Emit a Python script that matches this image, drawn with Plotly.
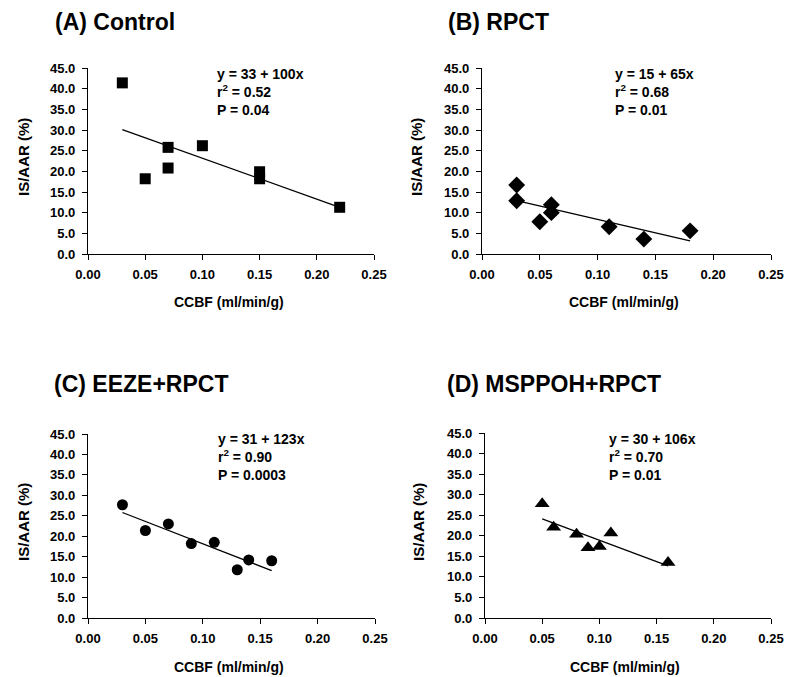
import plotly.graph_objects as go

# ---- data ----
panel_titles = ["(A) Control", "(B) RPCT", "(C) EEZE+RPCT", "(D) MSPPOH+RPCT"]
fit_texts = [
    "y = 33 + 100x<br>r<sup>2</sup> = 0.52<br>P = 0.04",
    "y = 15 + 65x<br>r<sup>2</sup> = 0.68<br>P = 0.01",
    "y = 31 + 123x<br>r<sup>2</sup> = 0.90<br>P = 0.0003",
    "y = 30 + 106x<br>r<sup>2</sup> = 0.70<br>P = 0.01",
]

control_x = [0.03, 0.05, 0.07, 0.07, 0.10, 0.15, 0.15, 0.22]
control_y = [41.4, 18.2, 25.8, 20.8, 26.2, 19.9, 18.2, 11.3]
control_fit_x = [0.03, 0.22]
control_fit_y = [30.1, 11.3]

rpct_x = [0.03, 0.03, 0.05, 0.06, 0.06, 0.11, 0.14, 0.18]
rpct_y = [16.7, 12.9, 7.8, 11.9, 10.0, 6.6, 3.6, 5.6]
rpct_fit_x = [0.03, 0.18]
rpct_fit_y = [12.9, 3.2]

eeze_x = [0.03, 0.05, 0.07, 0.09, 0.11, 0.13, 0.14, 0.16]
eeze_y = [27.7, 21.4, 23.0, 18.2, 18.5, 11.8, 14.2, 14.0]
eeze_fit_x = [0.03, 0.16]
eeze_fit_y = [25.8, 11.6]

msppoh_x = [0.05, 0.06, 0.08, 0.09, 0.10, 0.11, 0.16]
msppoh_y = [27.8, 22.1, 20.4, 17.1, 17.4, 20.7, 13.5]
msppoh_fit_x = [0.05, 0.16]
msppoh_fit_y = [24.1, 12.7]

x_ticks = [0, 0.05, 0.10, 0.15, 0.20, 0.25]
x_title = "CCBF (ml/min/g)"
y_title = "IS/AAR (%)"

panels = [
    (control_x, control_y, control_fit_x, control_fit_y, "square", 11),
    (rpct_x, rpct_y, rpct_fit_x, rpct_fit_y, "diamond", 13),
    (eeze_x, eeze_y, eeze_fit_x, eeze_fit_y, "circle", 11),
    (msppoh_x, msppoh_y, msppoh_fit_x, msppoh_fit_y, "triangle-up", 13),
]

W, H = 786, 677
# pixel boxes of plot areas in window pixels: (left, right, top, bottom)
boxes = [(88, 374, 68, 254), (482, 771, 68, 254), (88, 375, 434, 618), (485, 771, 433, 618)]
title_pos = [(53, 22), (446, 22), (52, 384), (445, 384)]
xtitle_pos = [(229, 302), (624, 302), (229, 667), (625, 667)]
ytitle_pos = [(23, 157), (416, 157), (23, 522), (418, 522)]
fit_pos = [(215, 64), (613, 64), (216, 429), (607, 429)]

fig = go.Figure()
FONT = "Arial, Liberation Sans, sans-serif"


def fx_(x):
    return x / W


def fy_(y):
    return 1 - y / H


for i, (mx, my, fx, fy, sym, sz) in enumerate(panels):
    n = i + 1
    xa = "x" if n == 1 else f"x{n}"
    ya = "y" if n == 1 else f"y{n}"
    fig.add_trace(go.Scatter(x=fx, y=fy, mode="lines", xaxis=xa, yaxis=ya,
                             line=dict(color="black", width=1.3), showlegend=False))
    fig.add_trace(go.Scatter(x=mx, y=my, mode="markers", xaxis=xa, yaxis=ya,
                             marker=dict(symbol=sym, size=sz, color="black"), showlegend=False,
                             cliponaxis=False))
    l, r, t, b = boxes[i]
    xkey = "xaxis" if n == 1 else f"xaxis{n}"
    ykey = "yaxis" if n == 1 else f"yaxis{n}"
    fig.layout[xkey] = dict(
        domain=[fx_(l), fx_(r)], anchor=ya, range=[0, 0.25], tickvals=x_ticks,
        tickformat=".2f", showline=True, linecolor="black", linewidth=1.3, ticks="outside",
        ticklen=5, tickcolor="black", showgrid=False, zeroline=False, automargin=False,
        ticklabelstandoff=3, ticklabeloverflow="allow",
        tickfont=dict(family=FONT, size=13, color="black", weight="bold"),
    )
    fig.layout[ykey] = dict(
        domain=[fy_(b), fy_(t)], anchor=xa, range=[0, 45], dtick=5, tick0=0,
        tickformat=".1f", showline=True, linecolor="black", linewidth=1.3, ticks="outside",
        ticklen=5, tickcolor="black", showgrid=False, zeroline=False, automargin=False,
        ticklabelstandoff=4,
        tickfont=dict(family=FONT, size=13, color="black", weight="bold"),
    )
    # fit equation text
    fig.add_annotation(x=fx_(fit_pos[i][0]), y=fy_(fit_pos[i][1]), xref="paper", yref="paper",
                       xanchor="left", yanchor="top",
                       text=f"<b>{fit_texts[i]}</b>", showarrow=False, align="left",
                       font=dict(family=FONT, size=14, color="black"))
    # panel title
    fig.add_annotation(x=fx_(title_pos[i][0]), y=fy_(title_pos[i][1]), xref="paper", yref="paper",
                       xanchor="left", yanchor="middle",
                       text=f"<b>{panel_titles[i]}</b>", showarrow=False,
                       font=dict(family=FONT, size=23, color="black"))
    # axis titles
    fig.add_annotation(x=fx_(xtitle_pos[i][0]), y=fy_(xtitle_pos[i][1]), xref="paper", yref="paper",
                       xanchor="center", yanchor="middle",
                       text=f"<b>{x_title}</b>", showarrow=False,
                       font=dict(family=FONT, size=14, color="black"))
    fig.add_annotation(x=fx_(ytitle_pos[i][0]), y=fy_(ytitle_pos[i][1]), xref="paper", yref="paper",
                       xanchor="center", yanchor="middle",
                       text=f"<b>{y_title}</b>", showarrow=False, textangle=-90,
                       font=dict(family=FONT, size=15, color="black"))

fig.update_layout(width=W, height=H, margin=dict(l=0, r=0, t=0, b=0),
                  plot_bgcolor="white", paper_bgcolor="white")
# remove the default page margin so the 786x677 figure fills the window exactly
fig.write_html("out.html", config={"displayModeBar": False},
               post_script="document.body.style.margin='0';document.documentElement.style.overflow='hidden';")
